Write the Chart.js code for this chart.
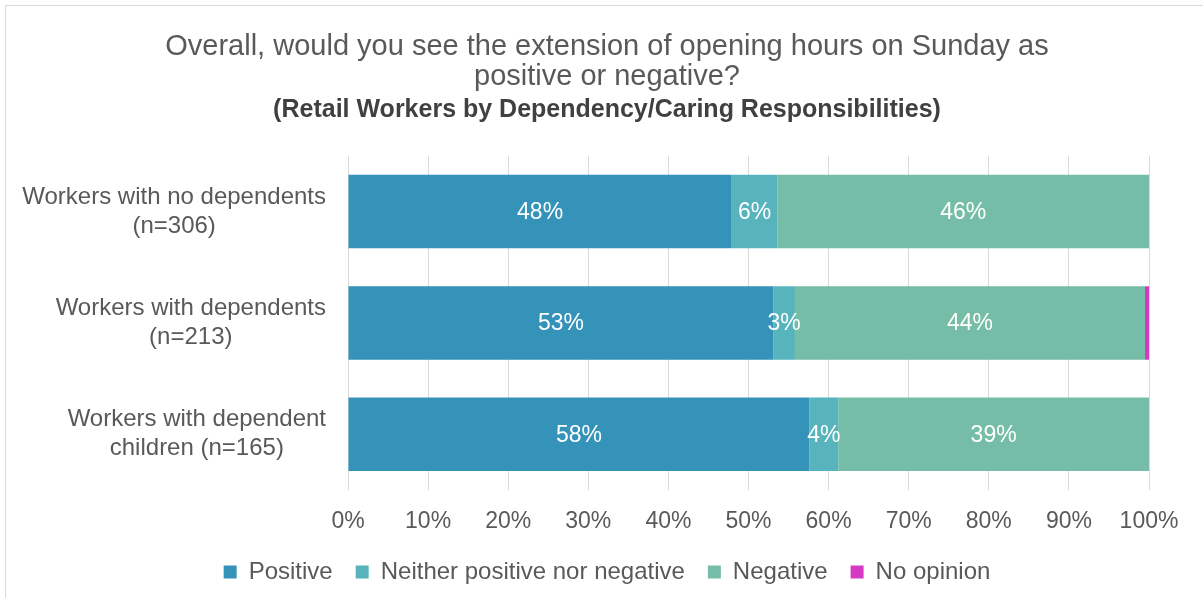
<!DOCTYPE html>
<html>
<head>
<meta charset="utf-8">
<script src="https://cdn.jsdelivr.net/npm/chart.js@4/dist/chart.umd.min.js"></script>
<style>
  html, body { margin: 0; padding: 0; background: #fff; }
  #wrap { position: relative; width: 1203px; height: 598px; overflow: hidden; }
  #frame { position: absolute; left: 5px; top: 5px; width: 1300px; height: 700px; border: 1px solid #d9d9d9; box-sizing: border-box; }
  #chart { position: absolute; left: 0; top: 0; }
</style>
</head>
<body>
<div id="wrap">
  <div id="frame"></div>
  <canvas id="chart" width="1203" height="598"></canvas>
</div>
<script>
// Categories and series (percent of respondents)
const groups = [
    ['Workers with no dependents', '(n=306)'],
    ['Workers with dependents', '(n=213)'],
    ['Workers with dependent', 'children (n=165)']
];
const positive  = [47.9, 53.1, 57.6];
const neither   = [5.7, 2.7, 3.6];
const negative  = [46.4, 43.7, 38.8];
const noOpinion = [0, 0.5, 0];
const xTicks = [0, 10, 20, 30, 40, 50, 60, 70, 80, 90, 100];

const SANS = "'Liberation Sans', Arial, sans-serif";
const GREY = '#595959';

// category labels, each centred on itself, block right-aligned
const groupLabels = {
    id: 'groupLabels',
    afterDraw(chart) {
        const { ctx, scales } = chart;
        ctx.save();
        ctx.font = `24px ${SANS}`;
        ctx.fillStyle = GREY;
        ctx.textAlign = 'center';
        ctx.textBaseline = 'middle';
        const right = chart.chartArea.left - 22;
        groups.forEach((lines, i) => {
            const yc = scales.y.getPixelForValue(i);
            const w = Math.max(...lines.map(l => ctx.measureText(l).width));
            const cx = right - w / 2;
            lines.forEach((l, j) => {
                ctx.fillText(l, cx, yc + (j - (lines.length - 1) / 2) * 29);
            });
        });
        ctx.restore();
    }
};

// white % labels in the middle of each segment
const segLabels = {
    id: 'segLabels',
    afterDatasetsDraw(chart) {
        const { ctx } = chart;
        ctx.save();
        ctx.font = `23px ${SANS}`;
        ctx.fillStyle = '#ffffff';
        ctx.textAlign = 'center';
        ctx.textBaseline = 'middle';
        chart.data.datasets.forEach((ds, di) => {
            if (ds.noLabel) return;
            chart.getDatasetMeta(di).data.forEach((bar, i) => {
                const v = ds.data[i];
                if (!v) return;
                const cx = (bar.x + bar.base) / 2;
                ctx.fillText(Math.round(v) + '%', cx, bar.y + 1);
            });
        });
        ctx.restore();
    }
};

new Chart(document.getElementById('chart'), {
    type: 'bar',
    data: {
        labels: groups.map(g => g.join(' ')),
        datasets: [
            { label: 'Positive', data: positive, backgroundColor: '#3593b9' },
            { label: 'Neither positive nor negative', data: neither, backgroundColor: '#57b4bd' },
            { label: 'Negative', data: negative, backgroundColor: '#75bda6' },
            { label: 'No opinion', data: noOpinion, backgroundColor: '#d63ac4', noLabel: true }
        ]
    },
    options: {
        indexAxis: 'y',
        responsive: false,
        animation: false,
        layout: { padding: { left: 65, right: 54, bottom: 4 } },
        datasets: { bar: { categoryPercentage: 1, barPercentage: 0.66, borderWidth: 0 } },
        scales: {
            x: {
                stacked: true,
                min: 0,
                max: 100,
                afterBuildTicks: s => { s.ticks = xTicks.map(v => ({ value: v })); },
                afterFit: s => { s.height = 47; },
                ticks: { callback: v => v + '%', color: GREY, font: { family: SANS, size: 23 }, padding: 18, maxRotation: 0 },
                grid: { color: '#d9d9d9', lineWidth: 1, drawTicks: false },
                border: { display: false }
            },
            y: {
                stacked: true,
                afterFit: s => { s.width = 283; },
                ticks: { display: false },
                grid: { display: false, drawTicks: false },
                border: { display: false }
            }
        },
        plugins: {
            title: {
                display: true,
                text: ['Overall, would you see the extension of opening hours on Sunday as', 'positive or negative?'],
                color: GREY,
                font: { family: SANS, size: 29, weight: 'normal', lineHeight: 1.035 },
                padding: { top: 32, bottom: 2 }
            },
            subtitle: {
                display: true,
                text: '(Retail Workers by Dependency/Caring Responsibilities)',
                color: '#404040',
                font: { family: SANS, size: 25, weight: 'bold', lineHeight: 1.15 },
                padding: { top: 2, bottom: 31 }
            },
            legend: {
                position: 'bottom',
                labels: {
                    color: GREY,
                    font: { family: SANS, size: 24 },
                    boxWidth: 13,
                    boxHeight: 13,
                    padding: 23
                }
            },
            tooltip: { enabled: false }
        }
    },
    plugins: [groupLabels, segLabels]
});
</script>
</body>
</html>
